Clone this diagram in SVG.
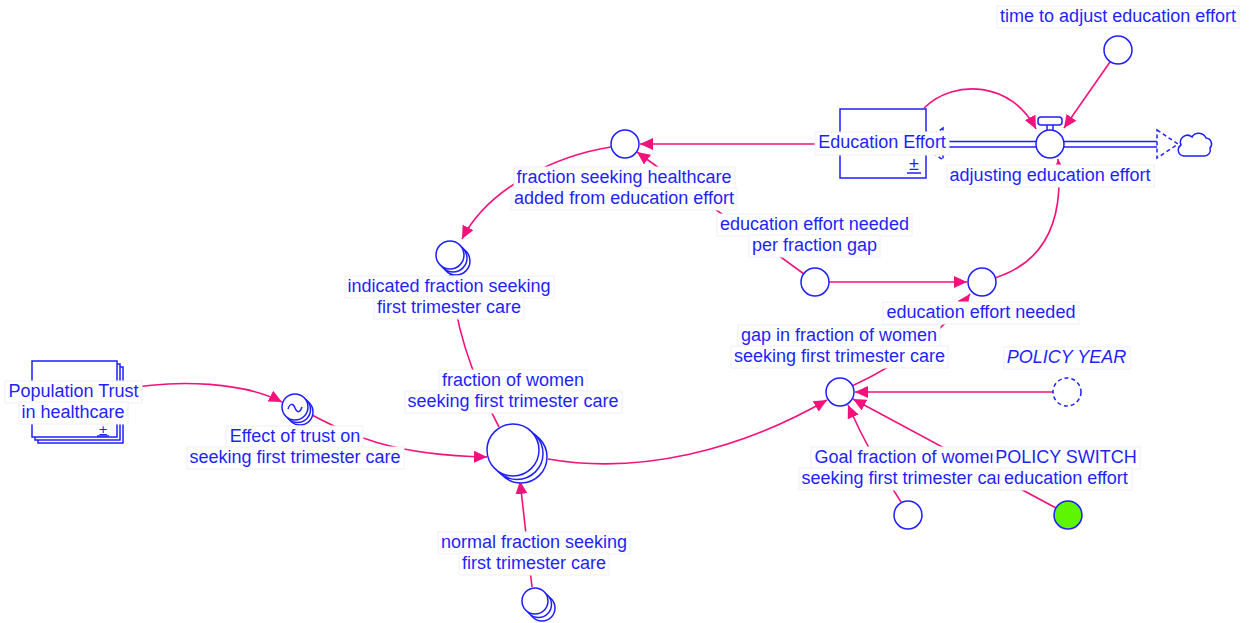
<svg xmlns="http://www.w3.org/2000/svg" width="1250" height="623" viewBox="0 0 1250 623">
<style>
  text{font-family:"Liberation Sans",Arial,sans-serif;font-size:18px;fill:#1f1fff;text-anchor:middle}
  .it{font-style:italic}
  .pm{font-size:15px}
  .bg{fill:#fff;stroke:#eef0f6;stroke-width:1}
  .aux{fill:#fff;stroke:#1f1fff;stroke-width:1.5}
  .box{fill:#fff;stroke:#1f1fff;stroke-width:1.5}
  .lnk{fill:none;stroke:#f3127c;stroke-width:1.6;marker-end:url(#ah)}
  .pipe{fill:none;stroke:#1f1fff;stroke-width:1.5}
  .dash{fill:#fff;stroke:#1f1fff;stroke-width:1.5;stroke-dasharray:4 3}
</style>
<defs>
  <marker id="ah" markerUnits="userSpaceOnUse" markerWidth="14" markerHeight="12" refX="13" refY="6" orient="auto">
    <path d="M0,0 L13,6 L0,12 z" fill="#f3127c"/>
  </marker>
</defs>
<rect width="1250" height="623" fill="#fff"/>

<!-- causal links -->
<g id="connectors">
  <path class="lnk" d="M118,390 C180,378 245,383 282,402"/>
  <path class="lnk" d="M308,413 C345,432 385,455 487,457"/>
  <path class="lnk" d="M532,587 L520,481"/>
  <path class="lnk" d="M499,427 Q455,345 451,271"/>
  <path class="lnk" d="M611,147 C560,155 490,185 462,239"/>
  <path class="lnk" d="M818,144 L640,144"/>
  <path class="lnk" d="M804,274 L637,152"/>
  <path class="lnk" d="M829,282 L967,282"/>
  <path class="lnk" d="M852,386 Q930,350 970,294"/>
  <path class="lnk" d="M995,278 C1045,262 1064,220 1058,159"/>
  <path class="lnk" d="M924,108 C955,78 1012,82 1036,129"/>
  <path class="lnk" d="M1110,62 L1064,128"/>
  <path class="lnk" d="M548,459 C640,475 740,450 827,400"/>
  <path class="lnk" d="M1053,392 L855,392"/>
  <path class="lnk" d="M901,502 Q870,455 848,405"/>
  <path class="lnk" d="M1056,508 L853,399"/>
</g>

<!-- flow: adjusting education effort -->
<g id="adjusting_education_effort">
  <line class="pipe" x1="926" y1="141.5" x2="1158" y2="141.5"/>
  <line class="pipe" x1="926" y1="147" x2="1158" y2="147"/>
  <path class="dash" d="M943,128 L921,144 L943,160 z"/>
  <path class="dash" d="M1157,130 L1178,144 L1157,158 z"/>
  <path class="pipe" d="M1184,156 a6,6 0 0 1 -3,-11 a7,7 0 0 1 11,-8 a8,8 0 0 1 14,1 a6,6 0 0 1 4,10 a6,6 0 0 1 -6,8 z" style="fill:#fff"/>
  <line class="pipe" x1="1047" y1="124" x2="1047" y2="131"/>
  <line class="pipe" x1="1053" y1="124" x2="1053" y2="131"/>
  <rect class="box" x="1038" y="117" width="24" height="8" rx="3"/>
  <circle class="aux" cx="1050" cy="144" r="14"/>
  <rect class="bg" x="947" y="165" width="207" height="22"/>
  <text x="1050" y="181">adjusting education effort</text>
</g>

<!-- stock: Education Effort -->
<g id="education_effort">
  <rect class="box" x="840" y="109" width="86" height="69"/>
  <text x="914" y="170">±</text>
  <line class="pipe" x1="907" y1="173" x2="921" y2="173"/>
  <rect class="bg" x="815" y="132" width="134" height="23"/>
  <text x="882" y="148">Education Effort</text>
</g>

<g id="time_to_adjust_education_effort">
  <circle class="aux" cx="1118" cy="50" r="14"/>
  <rect class="bg" x="997" y="6" width="242" height="22"/>
  <text x="1118" y="22">time to adjust education effort</text>
</g>

<g id="fraction_seeking_healthcare_added">
  <circle class="aux" cx="625" cy="144" r="14"/>
  <rect class="bg" x="514" y="167" width="221" height="22"/>
  <rect class="bg" x="511" y="188" width="226" height="22"/>
  <text x="624" y="183">fraction seeking healthcare</text>
  <text x="624" y="204">added from education effort</text>
</g>

<g id="education_effort_needed_per_fraction_gap">
  <circle class="aux" cx="815" cy="282" r="14"/>
  <rect class="bg" x="717" y="214" width="195" height="22"/>
  <rect class="bg" x="749" y="235" width="131" height="22"/>
  <text x="814.5" y="230">education effort needed</text>
  <text x="814.5" y="251">per fraction gap</text>
</g>

<g id="education_effort_needed">
  <circle class="aux" cx="982" cy="282" r="14"/>
  <rect class="bg" x="883" y="302" width="196" height="22"/>
  <text x="981" y="318">education effort needed</text>
</g>

<g id="indicated_fraction_seeking">
  <circle class="aux" cx="456" cy="261" r="14"/>
  <circle class="aux" cx="453" cy="258" r="14"/>
  <circle class="aux" cx="450" cy="255" r="14"/>
  <rect class="bg" x="345" y="276" width="209" height="22"/>
  <rect class="bg" x="374" y="297" width="150" height="22"/>
  <text x="449" y="292">indicated fraction seeking</text>
  <text x="449" y="313">first trimester care</text>
</g>

<g id="fraction_of_women_seeking">
  <circle class="aux" cx="521" cy="457" r="26"/>
  <circle class="aux" cx="517" cy="453.5" r="26"/>
  <circle class="aux" cx="513" cy="450" r="26"/>
  <rect class="bg" x="439" y="370" width="148" height="22"/>
  <rect class="bg" x="405" y="391" width="217" height="22"/>
  <text x="513" y="386">fraction of women</text>
  <text x="513" y="407">seeking first trimester care</text>
</g>

<g id="normal_fraction_seeking">
  <circle class="aux" cx="542" cy="608" r="13"/>
  <circle class="aux" cx="538.5" cy="604.5" r="13"/>
  <circle class="aux" cx="535" cy="601" r="13"/>
  <rect class="bg" x="438" y="532" width="192" height="22"/>
  <rect class="bg" x="459" y="553" width="150" height="22"/>
  <text x="534" y="548">normal fraction seeking</text>
  <text x="534" y="569">first trimester care</text>
</g>

<g id="effect_of_trust">
  <circle class="aux" cx="300" cy="412" r="13"/>
  <circle class="aux" cx="297.5" cy="409.5" r="13"/>
  <circle class="aux" cx="295" cy="407" r="13"/>
  <path class="pipe" d="M288,409 c2,-6 5,-6 7,-1 s5,5 7,-1"/>
  <rect class="bg" x="226" y="426" width="137" height="22"/>
  <rect class="bg" x="187" y="447" width="217" height="22"/>
  <text x="295" y="442">Effect of trust on</text>
  <text x="295" y="463">seeking first trimester care</text>
</g>

<g id="population_trust">
  <rect class="box" x="38" y="367" width="85" height="76"/>
  <rect class="box" x="35" y="364" width="85" height="76"/>
  <rect class="box" x="32" y="361" width="85" height="76"/>
  <text class="pm" x="103" y="435">±</text>
  <line class="pipe" x1="97" y1="436" x2="109" y2="436"/>
  <rect class="bg" x="5" y="381" width="137" height="22"/>
  <rect class="bg" x="19" y="402" width="109" height="22"/>
  <text x="73.5" y="397">Population Trust</text>
  <text x="73" y="418">in healthcare</text>
</g>

<g id="gap_in_fraction">
  <circle class="aux" cx="840" cy="392" r="14"/>
  <rect class="bg" x="738" y="325" width="202" height="22"/>
  <rect class="bg" x="731" y="346" width="217" height="22"/>
  <text x="839" y="341">gap in fraction of women</text>
  <text x="839.5" y="362">seeking first trimester care</text>
</g>

<g id="policy_year">
  <circle class="dash" cx="1067" cy="392" r="14"/>
  <rect class="bg" x="1004" y="347" width="126" height="22"/>
  <text class="it" x="1066.5" y="363">POLICY YEAR</text>
</g>

<g id="goal_fraction">
  <circle class="aux" cx="908" cy="515" r="14"/>
  <rect class="bg" x="811" y="447" width="191" height="22"/>
  <rect class="bg" x="799" y="468" width="217" height="22"/>
  <text x="907" y="463">Goal fraction of women</text>
  <text x="907" y="484">seeking first trimester care</text>
</g>

<g id="policy_switch">
  <circle cx="1068" cy="515" r="14" fill="#5df500" stroke="#1f1fff" stroke-width="1.5"/>
  <rect class="bg" x="993" y="447" width="147" height="22"/>
  <rect class="bg" x="1000" y="468" width="132" height="22"/>
  <text x="1066" y="463">POLICY SWITCH</text>
  <text x="1066" y="484">education effort</text>
</g>
</svg>
